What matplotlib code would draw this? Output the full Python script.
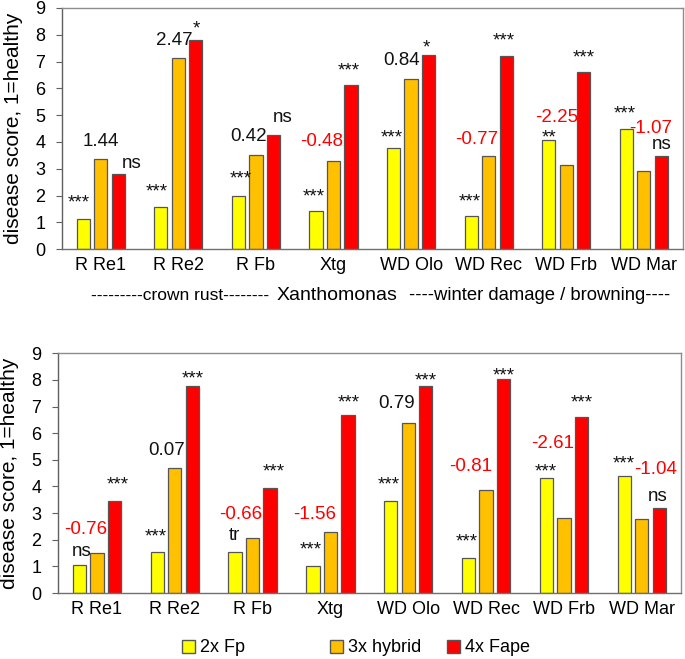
import matplotlib
matplotlib.use("Agg")
import matplotlib.pyplot as plt
import numpy as np
from matplotlib.patches import Patch

plt.rcParams['font.family'] = ['Liberation Sans', 'DejaVu Sans']

## categories and series
cats = ["R Re1", "R Re2", "R Fb", "Xtg", "WD Olo", "WD Rec", "WD Frb", "WD Mar"]
series = ["2x Fp", "3x hybrid", "4x Fape"]
colors = ["#FFFF00", "#FFC000", "#FF0000"]

# top panel
top_fp = [1.11, 1.57, 2.00, 1.43, 3.77, 1.22, 4.08, 4.49]
top_hy = [3.38, 7.14, 3.53, 3.30, 6.34, 3.46, 3.12, 2.90]
top_fa = [2.82, 7.79, 4.25, 6.13, 7.23, 7.19, 6.60, 3.46]
# bottom panel
bot_fp = [1.04, 1.53, 1.53, 1.00, 3.46, 1.33, 4.30, 4.40]
bot_hy = [1.49, 4.71, 2.08, 2.28, 6.40, 3.88, 2.83, 2.78]
bot_fa = [3.46, 7.78, 3.95, 6.68, 7.78, 8.03, 6.59, 3.20]

## significance / effect labels: (text, x offset from group centre, y, colour, kind)
top_notes = [
    [("***", -0.28, 1.97, "k", "s"), ("1.44", 0.0, 4.0, "k", "n"), ("ns", 0.4, 3.2, "k", "n")],
    [("***", -0.28, 2.4, "k", "s"), ("2.47", -0.05, 7.8, "k", "n"), ("*", 0.23, 8.45, "k", "s")],
    [("***", -0.2, 2.85, "k", "s"), ("0.42", -0.1, 4.2, "k", "n"), ("ns", 0.35, 4.9, "k", "n")],
    [("***", -0.25, 2.2, "k", "s"), ("-0.48", -0.15, 4.0, "r", "n"), ("***", 0.2, 6.9, "k", "s")],
    [("***", -0.25, 4.4, "k", "s"), ("0.84", -0.12, 7.05, "k", "n"), ("*", 0.2, 7.75, "k", "s")],
    [("***", -0.25, 2.0, "k", "s"), ("-0.77", -0.15, 4.1, "r", "n"), ("***", 0.2, 8.0, "k", "s")],
    [("**", -0.22, 4.4, "k", "s"), ("-2.25", -0.12, 4.9, "r", "n"), ("***", 0.23, 7.4, "k", "s")],
    [("***", -0.25, 5.3, "k", "s"), ("-1.07", 0.09, 4.5, "r", "n"), ("ns", 0.23, 3.9, "k", "n")],
]
bot_notes = [
    [("ns", -0.2, 1.55, "k", "n"), ("-0.76", -0.15, 2.4, "r", "n"), ("***", 0.27, 4.3, "k", "s")],
    [("***", -0.25, 2.35, "k", "s"), ("0.07", -0.1, 5.35, "k", "n"), ("***", 0.23, 8.3, "k", "s")],
    [("tr", -0.23, 2.15, "k", "n"), ("-0.66", -0.15, 2.95, "r", "n"), ("***", 0.27, 4.8, "k", "s")],
    [("***", -0.25, 1.85, "k", "s"), ("-1.56", -0.2, 2.95, "r", "n"), ("***", 0.23, 7.4, "k", "s")],
    [("***", -0.25, 4.3, "k", "s"), ("0.79", -0.15, 7.1, "k", "n"), ("***", 0.23, 8.2, "k", "s")],
    [("***", -0.25, 2.15, "k", "s"), ("-0.81", -0.2, 4.75, "r", "n"), ("***", 0.23, 8.4, "k", "s")],
    [("***", -0.23, 4.8, "k", "s"), ("-2.61", -0.15, 5.6, "r", "n"), ("***", 0.23, 7.4, "k", "s")],
    [("***", -0.23, 5.1, "k", "s"), ("-1.04", 0.18, 4.65, "r", "n"), ("ns", 0.2, 3.62, "k", "n")],
]


def draw_panel(ax, vals, notes):
    x = np.arange(len(cats))
    for i, (v, c) in enumerate(zip(vals, colors)):
        ax.bar(x + (i - 1) * 0.225, v, width=0.17, color=c, edgecolor="#555555", linewidth=0.9, zorder=2)
    for xi, group in zip(x, notes):
        for txt, dx, y, col, kind in group:
            color = "#FF0000" if col == "r" else "#111111"
            if kind == "s":
                # stars sit high in the glyph box, pull them down a bit
                y = y - 0.25
            ax.text(xi + dx, y, txt, ha="center", va="center", color=color, fontsize=13.5, zorder=4)
    ax.set_xlim(-0.5, len(cats) - 0.5)
    ax.set_ylim(0, 9)
    ax.set_yticks(range(10))
    ax.set_xticks(x)
    ax.set_xticklabels(cats, fontsize=13)
    ax.tick_params(axis="x", length=0, pad=6)
    ax.tick_params(axis="y", labelsize=13, length=4, color="#606060", pad=8)
    for s in ax.spines.values():
        s.set_color("#8c8c8c")
        s.set_linewidth(1.0)
    ax.spines["bottom"].set_color("#707070")
    ax.spines["left"].set_color("#606060")
    ax.set_ylabel("disease score, 1=healthy", fontsize=15, labelpad=9)


fig = plt.figure(figsize=(6.85, 6.59), dpi=100)
ax1 = fig.add_axes([0.0905, 0.622, 0.906, 0.366])
ax2 = fig.add_axes([0.0847, 0.100, 0.909, 0.364])

draw_panel(ax1, [top_fp, top_hy, top_fa], top_notes)
draw_panel(ax2, [bot_fp, bot_hy, bot_fa], bot_notes)

# disease group labels under the top panel
fig.text(180 / 685, 1 - 296 / 659, "---------crown rust--------", ha="center", va="center", fontsize=12.5)
fig.text(337 / 685, 1 - 296 / 659, "Xanthomonas", ha="center", va="center", fontsize=14)
fig.text(540 / 685, 1 - 296 / 659, "----winter damage / browning----", ha="center", va="center", fontsize=13.3)

# legend entries are spaced unevenly in the original, so place each one
leg_x = [182, 330, 447]
for c, s, lx in zip(colors, series, leg_x):
    h = Patch(facecolor=c, edgecolor="#555555", label=s)
    fig.legend(handles=[h], loc="center left", bbox_to_anchor=(lx / 685, 1 - 648 / 659),
               frameon=False, fontsize=13, handlelength=0.7, handleheight=0.7,
               handletextpad=0.3, borderpad=0, borderaxespad=0)

fig.savefig("out.png", dpi=100)
